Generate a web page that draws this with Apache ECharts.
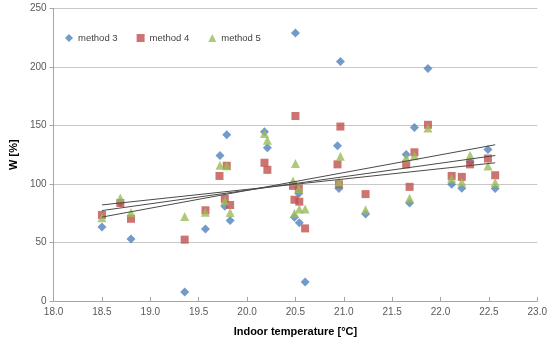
<!DOCTYPE html>
<html>
<head>
<meta charset="utf-8">
<script src="https://cdn.jsdelivr.net/npm/echarts@6/dist/echarts.min.js"></script>
<style>html,body{margin:0;padding:0;background:#fff}#c{width:550px;height:342px}</style>
</head>
<body>
<div id="c"></div>
<script>
// method 3 (diamonds)
const m3x = [18.50, 18.69, 18.80, 19.355, 19.57, 19.72, 19.77, 19.79, 19.825, 20.18, 20.21, 20.50, 20.535, 20.49, 20.54, 20.60, 20.965, 20.935, 20.95, 21.225, 21.68, 21.645, 21.73, 21.87, 22.115, 22.22, 22.305, 22.49, 22.565];
const m3y = [63.1, 84, 53, 7.6, 61.4, 124.3, 80.9, 142, 68.7, 144.5, 130.8, 229, 91.9, 71.6, 66.8, 16.3, 204.6, 132.7, 96.1, 74.4, 83.7, 125.1, 148.2, 198.6, 99.7, 96.4, 119, 129.3, 96.1];
// method 4 (squares)
const m4x = [18.50, 18.69, 18.80, 19.355, 19.57, 19.715, 19.77, 19.79, 19.825, 20.18, 20.21, 20.50, 20.475, 20.535, 20.49, 20.54, 20.60, 20.965, 20.935, 20.95, 21.225, 21.68, 21.645, 21.73, 21.87, 22.115, 22.22, 22.305, 22.49, 22.565];
const m4y = [73.5, 83.7, 70.2, 52.4, 77.5, 106.8, 87.3, 115.5, 82, 118.1, 112, 158, 98.3, 96.1, 86.5, 84.8, 62, 149, 116.7, 99.7, 91.3, 97.5, 116.7, 127, 150.5, 106.8, 106, 116.7, 121.7, 107.4];
// method 5 (triangles)
const m5x = [18.50, 18.69, 18.80, 19.355, 19.57, 19.72, 19.77, 19.79, 19.825, 20.18, 20.21, 20.50, 20.475, 20.535, 20.49, 20.54, 20.60, 20.965, 20.95, 21.225, 21.68, 21.645, 21.73, 21.87, 22.115, 22.22, 22.305, 22.49, 22.565];
const m5y = [71, 87.9, 75.5, 72.1, 75.8, 116, 85.4, 115.5, 75.5, 143, 137.2, 117.5, 102.5, 96, 75, 78.6, 78.6, 123.7, 101.7, 78, 87.7, 122.3, 124, 147.7, 104.8, 101.7, 124.5, 115.2, 101.2];

const seriesNames = ['method 3', 'method 4', 'method 5'];
const colors = ['#4F81BD', '#C0504D', '#9BBB59'];
const symbols = ['diamond', 'rect', 'triangle'];
const sizes = [9, 8, 9];

function pairs(xs, ys) { return xs.map((x, i) => [x, ys[i]]); }
function trend(xs, ys) {
  const n = xs.length;
  let sx = 0, sy = 0, sxx = 0, sxy = 0;
  for (let i = 0; i < n; i++) { sx += xs[i]; sy += ys[i]; sxx += xs[i] * xs[i]; sxy += xs[i] * ys[i]; }
  const b = (n * sxy - sx * sy) / (n * sxx - sx * sx);
  const a = (sy - b * sx) / n;
  const x0 = Math.min(...xs), x1 = Math.max(...xs);
  return [[x0, a + b * x0], [x1, a + b * x1]];
}

const allX = [m3x, m4x, m5x];
const allY = [m3y, m4y, m5y];
const series = [];
for (let k = 0; k < 3; k++) {
  series.push({
    name: seriesNames[k], type: 'scatter', data: pairs(allX[k], allY[k]),
    symbol: symbols[k], symbolSize: sizes[k],
    itemStyle: { color: colors[k] }, z: 3 + k
  });
}
for (let k = 0; k < 3; k++) {
  series.push({
    name: 'trend ' + k, type: 'line', data: trend(allX[k], allY[k]),
    symbol: 'none', lineStyle: { color: '#4a4a4a', width: 1 }, z: 10, silent: true
  });
}

const chart = echarts.init(document.getElementById('c'), null, { renderer: 'canvas' });
chart.setOption({
  animation: false,
  textStyle: { fontFamily: 'Liberation Sans, Arial, sans-serif' },
  grid: { left: 37.5, right: 12.5, top: 8.3, bottom: 38 },
  legend: {
    data: seriesNames.map((n, k) => ({ name: n, icon: symbols[k] })),
    left: 60, top: 28, itemWidth: 8, itemHeight: 8, itemGap: 19,
    textStyle: { fontSize: 9.5, color: '#404040' }
  },
  xAxis: {
    type: 'value', min: 18, max: 23, interval: 0.5,
    name: 'Indoor temperature [°C]', nameLocation: 'middle', nameGap: 25,
    nameTextStyle: { fontWeight: 'bold', fontSize: 11, color: '#000' },
    axisLine: { show: true, lineStyle: { color: '#A6A6A6' } },
    axisTick: { show: true, inside: true, length: 4, lineStyle: { color: '#A6A6A6' } },
    axisLabel: { fontSize: 10, color: '#595959', margin: 6, formatter: v => v.toFixed(1) },
    splitLine: { show: false }
  },
  yAxis: {
    type: 'value', min: 0, max: 250, interval: 50,
    name: 'W [%]', nameLocation: 'middle', nameGap: 30, nameRotate: 90,
    nameTextStyle: { fontWeight: 'bold', fontSize: 11, color: '#000' },
    axisLine: { show: true, lineStyle: { color: '#A6A6A6' } },
    axisTick: { show: true, inside: false, length: 4, lineStyle: { color: '#A6A6A6' } },
    axisLabel: { fontSize: 10, color: '#595959', margin: 7 },
    splitLine: { show: true, lineStyle: { color: '#C8C8C8', width: 1 } }
  },
  series: series
});
</script>
</body>
</html>
